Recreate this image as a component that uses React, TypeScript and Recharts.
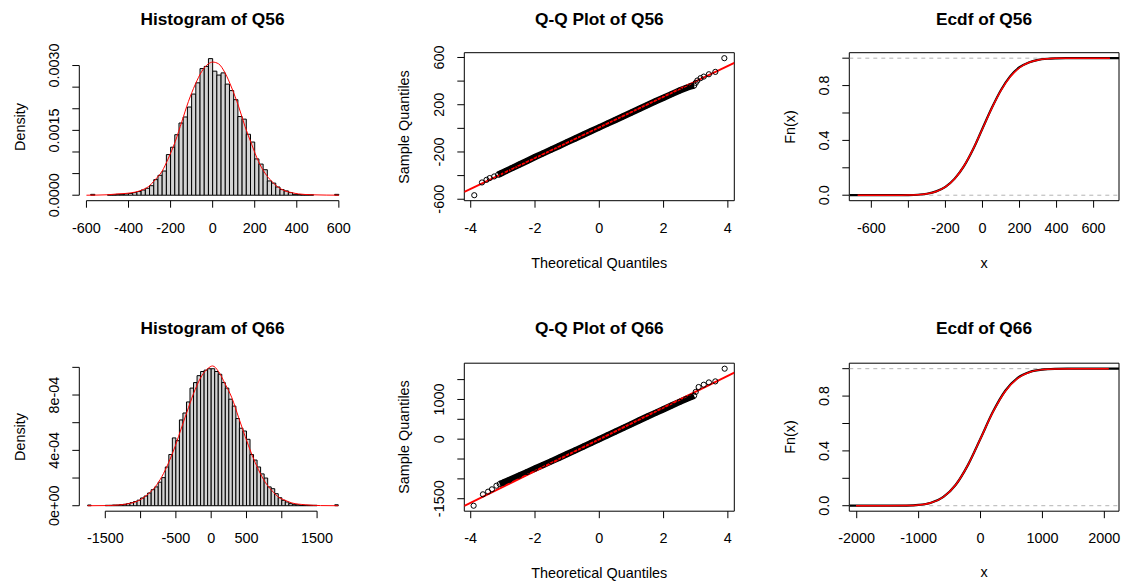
import React from 'react';
import { ComposedChart, XAxis, YAxis, Line, Scatter, ReferenceArea, ReferenceLine } from 'recharts';

const FONT = '"Liberation Sans", Arial, Helvetica, sans-serif';
const FS = 14.4;
const PW = 375;
const PH = 292.5;

// ---------------- Q56 histogram ----------------
const hist56Start = -600;
const hist56Width = 20;
const hist56Density = [
  0, 0.00002, 0, 0, 0, 0.00001, 0.00001, 0.00002, 0.00002, 0.00003,
  0.00004, 0.00006, 0.000085, 0.00012, 0.00016, 0.00022, 0.00036, 0.00046, 0.00056, 0.00094,
  0.00111, 0.0014, 0.00167, 0.00181, 0.00204, 0.00234, 0.0026, 0.00293, 0.00298, 0.00316,
  0.00287, 0.00278, 0.00283, 0.00257, 0.00242, 0.00221, 0.00182, 0.00176, 0.00141, 0.00123,
  0.00084, 0.00072, 0.00059, 0.00033, 0.00028, 0.00019, 0.00013, 0.0001, 0.00006, 0.00002,
  0.000015, 0.00001, 0.00001, 0.00001, 0, 0, 0, 0, 0, 0.00002,
];
const dens56X = [-600, -550, -500, -450, -416, -370, -336, -305, -273, -241, -210, -178, -146, -115, -83, -51, -20, 0, 28, 59, 91, 123, 154, 186, 218, 249, 281, 313, 344, 376, 408, 471, 540, 600];
const dens56Y = [0, 0.000003, 0.00001, 0.00003, 0.00004, 0.00007, 0.00012, 0.0002, 0.00036, 0.00055, 0.00086, 0.00124, 0.00171, 0.00217, 0.00256, 0.00287, 0.00304, 0.00308, 0.00304, 0.00283, 0.00248, 0.00206, 0.00159, 0.00117, 0.00078, 0.00051, 0.00032, 0.00018, 0.0001, 0.00006, 0.00003, 0.00001, 0.000003, 0];
const hist56XTicks = [-600, -400, -200, 0, 200, 400, 600];
const hist56XLabels = ['-600', '-400', '-200', '0', '200', '400', '600'];
const hist56YTicks = [0, 0.0005, 0.001, 0.0015, 0.002, 0.0025, 0.003];
const hist56YLabels = ['0.0000', '', '', '0.0015', '', '', '0.0030'];

// ---------------- Q66 histogram ----------------
const hist66Start = -1750;
const hist66Width = 50;
const hist66Density = [
  0.000005, 0, 0, 0, 0, 0.000003, 0.000003, 0.000005, 0.000005, 0.000008,
  0.00001, 0.000015, 0.000022, 0.00003, 0.00004, 0.000056, 0.00007, 0.000092, 0.000116, 0.000136,
  0.00017, 0.000203, 0.00028, 0.00037, 0.00049, 0.00047, 0.00062, 0.00067, 0.00075, 0.00085,
  0.00089, 0.00094, 0.00097, 0.00098, 0.00099, 0.00099, 0.00097, 0.00095, 0.00089, 0.00085,
  0.00077, 0.00072, 0.00063, 0.00056, 0.00054, 0.00048, 0.00037, 0.00033, 0.00028, 0.00023,
  0.0002, 0.000136, 0.000123, 0.000087, 0.000058, 0.000039, 0.000027, 0.000015, 0.00001, 0.000007,
  0.000003, 0.000003, 0.000003, 0.000003, 0.000003, 0, 0, 0, 0, 0,
  0.000007,
];
const dens66X = [-1750, -1500, -1313, -1171, -1076, -982, -888, -793, -699, -604, -510, -416, -321, -227, -132, -50, 20, 104, 198, 293, 387, 482, 576, 670, 765, 859, 954, 1048, 1143, 1331, 1550, 1800];
const dens66Y = [0, 0.000001, 0.000005, 0.000015, 0.000027, 0.00005, 0.000087, 0.000136, 0.00021, 0.00031, 0.00043, 0.00057, 0.00071, 0.00084, 0.00094, 0.00099, 0.00101, 0.00097, 0.00088, 0.00078, 0.00064, 0.0005, 0.00037, 0.00026, 0.00017, 0.00011, 0.000062, 0.000039, 0.00002, 0.000007, 0.000001, 0];
const hist66XTicks = [-1500, -1000, -500, 0, 500, 1000, 1500];
const hist66XLabels = ['-1500', '', '-500', '0', '500', '', '1500'];
const hist66YTicks = [0, 0.0002, 0.0004, 0.0006, 0.0008, 0.001];
const hist66YLabels = ['0e+00', '', '4e-04', '', '8e-04', ''];

// ---------------- Q-Q plots ----------------
const qq56Theo = [-3.89, -3.65, -3.51, -3.41, -3.27, -3.15, -3.05, -2.9, -2.7, -2.5, -2.25, -2.0, -1.75, -1.5, -1.25, -1.0, -0.75, -0.5, -0.25, 0, 0.25, 0.5, 0.75, 1.0, 1.25, 1.5, 1.75, 2.0, 2.25, 2.5, 2.7, 2.85, 2.95, 3.0, 3.05, 3.15, 3.25, 3.41, 3.61, 3.89];
const qq56Sample = [-566, -458, -436, -421, -407, -393, -380, -360, -334, -308, -276, -243, -212, -180, -149, -117, -86, -54, -23, 8, 40, 71, 103, 134, 166, 197, 229, 259, 290, 320, 342, 357, 362, 385, 405, 425, 438, 458, 478, 594];
const qq56LineX = [-4.2, 4.2];
const qq56LineY = [-538, 555];
const qq56XTicks = [-4, -2, 0, 2, 4];
const qq56XLabels = ['-4', '-2', '0', '2', '4'];
const qq56YTicks = [-600, -400, -200, 0, 200, 400, 600];
const qq56YLabels = ['-600', '', '-200', '', '200', '', '600'];

const qq66Theo = [-3.91, -3.62, -3.46, -3.34, -3.2, -3.1, -3.0, -2.8, -2.5, -2.25, -2.0, -1.75, -1.5, -1.25, -1.0, -0.75, -0.5, -0.25, 0, 0.25, 0.5, 0.75, 1.0, 1.25, 1.5, 1.75, 2.0, 2.25, 2.5, 2.7, 2.85, 2.95, 3.0, 3.09, 3.25, 3.41, 3.61, 3.9];
const qq66Sample = [-1676, -1389, -1322, -1263, -1172, -1130, -1100, -1030, -920, -830, -740, -650, -560, -468, -375, -282, -188, -94, 0, 95, 190, 285, 380, 475, 570, 662, 755, 848, 940, 1010, 1060, 1095, 1190, 1313, 1371, 1429, 1455, 1775];
const qq66LineX = [-4.2, 4.2];
const qq66LineY = [-1681, 1678];
const qq66XTicks = [-4, -2, 0, 2, 4];
const qq66XLabels = ['-4', '-2', '0', '2', '4'];
const qq66YTicks = [-1500, -1000, -500, 0, 500, 1000, 1500];
const qq66YLabels = ['-1500', '', '', '0', '', '1000', ''];

// ---------------- ECDFs ----------------
const ecdf56X = [-719, -580, -450, -400, -350, -300, -250, -200, -150, -100, -50, 0, 50, 100, 150, 200, 250, 300, 350, 400, 450, 600, 737];
const ecdf56Y = [0, 0.0001, 0.0004, 0.001, 0.0035, 0.011, 0.028, 0.061, 0.121, 0.212, 0.337, 0.487, 0.636, 0.768, 0.869, 0.934, 0.969, 0.988, 0.996, 0.9988, 0.9998, 1, 1];
const norm56X = [-674, -500, -400, -350, -300, -250, -200, -150, -100, -50, 0, 50, 100, 150, 200, 250, 300, 350, 400, 500, 688];
const norm56Y = [0, 0.0001, 0.0011, 0.0036, 0.0104, 0.0268, 0.0602, 0.12, 0.2133, 0.3384, 0.4849, 0.6334, 0.7643, 0.8639, 0.9302, 0.9683, 0.9873, 0.9955, 0.9986, 0.9999, 1];
const ecdf56XTicks = [-600, -400, -200, 0, 200, 400, 600];
const ecdf56XLabels = ['-600', '', '-200', '0', '200', '400', '600'];

const ecdf66X = [-2120, -1700, -1400, -1200, -1000, -800, -600, -400, -200, 0, 200, 400, 600, 800, 1000, 1200, 1400, 1800, 2237];
const ecdf66Y = [0, 0.00005, 0.0004, 0.0013, 0.006, 0.022, 0.064, 0.153, 0.3, 0.49, 0.685, 0.839, 0.933, 0.977, 0.9935, 0.9985, 0.9997, 1, 1];
const norm66X = [-2012, -1500, -1200, -1000, -800, -600, -400, -200, 0, 200, 400, 600, 800, 1000, 1200, 1500, 2072];
const norm66Y = [0, 0.00008, 0.00124, 0.00579, 0.0214, 0.0636, 0.1527, 0.2998, 0.49, 0.6826, 0.8352, 0.9299, 0.9759, 0.9933, 0.9985, 0.9999, 1];
const ecdf66XTicks = [-2000, -1000, 0, 1000, 2000];
const ecdf66XLabels = ['-2000', '-1000', '0', '1000', '2000'];

const ecdfYTicks = [0, 0.2, 0.4, 0.6, 0.8, 1.0];
const ecdfYLabels = ['0.0', '', '0.4', '', '0.8', ''];

// ---------------- helpers ----------------
const zip = (xs: number[], ys: number[]) => xs.map((x, i) => ({ x, y: ys[i] }));

const labelFor = (ticks: number[], labels: string[], v: number) => {
  const i = ticks.findIndex((t) => Math.abs(t - v) < 1e-9);
  return i >= 0 ? labels[i] : '';
};

const makeXTick = (ticks: number[], labels: string[]) => (props: any) => {
  const { x, y, payload } = props;
  const s = labelFor(ticks, labels, payload.value);
  if (!s) return <g />;
  return (
    <text x={x} y={y} dy="0.71em" textAnchor="middle" fontSize={FS} fontFamily={FONT} fill="#000">
      {s}
    </text>
  );
};

const makeYTick = (ticks: number[], labels: string[]) => (props: any) => {
  const { x, y, payload } = props;
  const s = labelFor(ticks, labels, payload.value);
  if (!s) return <g />;
  return (
    <text x={x} y={y} transform={`rotate(-90 ${x} ${y})`} textAnchor="middle" fontSize={FS} fontFamily={FONT} fill="#000">
      {s}
    </text>
  );
};

const circleShape = (p: any) => (
  <circle cx={p.cx} cy={p.cy} r={2.6} fill="none" stroke="#000" strokeWidth={1} />
);

type Box = { l: number; t: number; r: number; b: number };

function chartFrame(
  key: string,
  col: number,
  row: number,
  box: Box,
  xDomain: [number, number],
  yDomain: [number, number],
  xTicks: number[],
  xLabels: string[],
  yTicks: number[],
  yLabels: string[],
  children: React.ReactNode[],
) {
  const x0 = col * PW;
  const y0 = row * PH;
  const AW = 30;
  const AH = 30;
  const margin = {
    left: box.l - x0 - AW,
    right: x0 + PW - box.r,
    top: box.t - y0,
    bottom: y0 + PH - box.b - AH,
  };
  return (
    <div key={key} style={{ position: 'absolute', left: x0, top: y0, width: PW, height: PH }}>
      <ComposedChart width={PW} height={PH} margin={margin}>
        <XAxis
          type="number"
          dataKey="x"
          domain={xDomain}
          allowDataOverflow
          ticks={xTicks}
          interval={0}
          height={AH}
          tickSize={7}
          tickMargin={15}
          axisLine={false}
          tickLine={{ stroke: '#000', strokeWidth: 1 }}
          tick={makeXTick(xTicks, xLabels)}
        />
        <YAxis
          type="number"
          domain={yDomain}
          allowDataOverflow
          ticks={yTicks}
          interval={0}
          width={AW}
          tickSize={7}
          tickMargin={13}
          axisLine={false}
          tickLine={{ stroke: '#000', strokeWidth: 1 }}
          tick={makeYTick(yTicks, yLabels)}
        />
        {children}
      </ComposedChart>
    </div>
  );
}

function histChildren(start: number, width: number, dens: number[], dx: number[], dy: number[], xd: [number, number], yd: [number, number], xTicks: number[], yTicks: number[]) {
  const out: React.ReactNode[] = [];
  dens.forEach((d, i) => {
    if (d > 0) {
      out.push(
        <ReferenceArea
          key={'bar' + i}
          x1={start + i * width}
          x2={start + (i + 1) * width}
          y1={0}
          y2={d}
          fill="#d3d3d3"
          fillOpacity={1}
          stroke="#000"
          strokeWidth={1}
          strokeOpacity={1}
          ifOverflow="visible"
        />,
      );
    }
  });
  out.push(
    <ReferenceLine
      key="xaxis"
      segment={[{ x: xTicks[0], y: yd[0] }, { x: xTicks[xTicks.length - 1], y: yd[0] }]}
      stroke="#000"
      strokeWidth={1}
      ifOverflow="visible"
    />,
  );
  out.push(
    <ReferenceLine
      key="yaxis"
      segment={[{ x: xd[0], y: yTicks[0] }, { x: xd[0], y: yTicks[yTicks.length - 1] }]}
      stroke="#000"
      strokeWidth={1}
      ifOverflow="visible"
    />,
  );
  out.push(
    <Line
      key="dens"
      data={zip(dx, dy)}
      dataKey="y"
      type="monotone"
      stroke="#ff0000"
      strokeWidth={1}
      dot={false}
      activeDot={false}
      isAnimationActive={false}
    />,
  );
  return out;
}

function boxArea(xd: [number, number], yd: [number, number]) {
  return (
    <ReferenceArea
      key="box"
      x1={xd[0]}
      x2={xd[1]}
      y1={yd[0]}
      y2={yd[1]}
      fill="none"
      stroke="#000"
      strokeWidth={1}
      strokeOpacity={1}
      ifOverflow="visible"
    />
  );
}

function qqChildren(theo: number[], sample: number[], bandFrom: number, bandTo: number, lx: number[], ly: number[], xd: [number, number], yd: [number, number]) {
  const pts = zip(theo, sample);
  const band = pts.filter((p) => p.x >= bandFrom && p.x <= bandTo);
  return [
    boxArea(xd, yd),
    <Line key="band" data={band} dataKey="y" type="linear" stroke="#000" strokeWidth={6.5} dot={false} activeDot={false} isAnimationActive={false} />,
    <Scatter key="pts" data={pts} dataKey="y" shape={circleShape} isAnimationActive={false} />,
    <Line key="qqline" data={zip(lx, ly)} dataKey="y" type="linear" stroke="#ff0000" strokeWidth={2} dot={false} activeDot={false} isAnimationActive={false} />,
  ];
}

function ecdfChildren(ex: number[], ey: number[], nx: number[], ny: number[], xd: [number, number], yd: [number, number]) {
  return [
    <ReferenceLine key="h0" y={0} stroke="#b3b3b3" strokeWidth={1} strokeDasharray="4 4" ifOverflow="visible" />,
    <ReferenceLine key="h1" y={1} stroke="#b3b3b3" strokeWidth={1} strokeDasharray="4 4" ifOverflow="visible" />,
    <Line key="ecdf" data={zip(ex, ey)} dataKey="y" type="monotone" stroke="#000" strokeWidth={2.2} dot={false} activeDot={false} isAnimationActive={false} />,
    <Line key="norm" data={zip(nx, ny)} dataKey="y" type="monotone" stroke="#ff0000" strokeWidth={1.5} dot={false} activeDot={false} isAnimationActive={false} />,
    boxArea(xd, yd),
  ];
}

function Txt({ x, y, text, size = FS, bold = false, rotate = false }: { x: number; y: number; text: string; size?: number; bold?: boolean; rotate?: boolean }) {
  return (
    <div
      style={{
        position: 'absolute',
        left: x,
        top: y,
        transform: `translate(-50%, -50%)${rotate ? ' rotate(-90deg)' : ''}`,
        fontFamily: FONT,
        fontSize: size,
        fontWeight: bold ? 700 : 400,
        lineHeight: 1,
        whiteSpace: 'nowrap',
        color: '#000',
      }}
    >
      {text}
    </div>
  );
}

// layout (pixels)
const hist56Box = { l: 79.3, t: 52.7, r: 346, b: 200.7 };
const qq56Box = { l: 464.3, t: 52.7, r: 734.3, b: 200.7 };
const ecdf56Box = { l: 849.3, t: 52.7, r: 1119, b: 200.7 };
const hist66Box = { l: 79.3, t: 362.7, r: 346.6, b: 510.7 };
const qq66Box = { l: 464.3, t: 362.7, r: 734.3, b: 510.7 };
const ecdf66Box = { l: 849.3, t: 362.7, r: 1119, b: 510.7 };

const hist56XD: [number, number] = [-634, 634];
const hist56YD: [number, number] = [-0.000127, 0.003297];
const hist66XD: [number, number] = [-1868, 1918];
const hist66YD: [number, number] = [-0.0000396, 0.00103];
const qqXD: [number, number] = [-4.2, 4.2];
const qq56YD: [number, number] = [-612.4, 640.4];
const qq66YD: [number, number] = [-1814, 1913];
const ecdf56XD: [number, number] = [-719, 737];
const ecdf66XD: [number, number] = [-2120, 2237];
const ecdfYD: [number, number] = [-0.04, 1.04];

export default function App() {
  return (
    <div style={{ position: 'absolute', left: 0, top: 0, width: 1125, height: 585, background: '#fff', overflow: 'hidden' }}>
      {chartFrame('h56', 0, 0, hist56Box, hist56XD, hist56YD, hist56XTicks, hist56XLabels, hist56YTicks, hist56YLabels,
        histChildren(hist56Start, hist56Width, hist56Density, dens56X, dens56Y, hist56XD, hist56YD, hist56XTicks, hist56YTicks))}
      {chartFrame('q56', 1, 0, qq56Box, qqXD, qq56YD, qq56XTicks, qq56XLabels, qq56YTicks, qq56YLabels,
        qqChildren(qq56Theo, qq56Sample, -3.16, 2.96, qq56LineX, qq56LineY, qqXD, qq56YD))}
      {chartFrame('e56', 2, 0, ecdf56Box, ecdf56XD, ecdfYD, ecdf56XTicks, ecdf56XLabels, ecdfYTicks, ecdfYLabels,
        ecdfChildren(ecdf56X, ecdf56Y, norm56X, norm56Y, ecdf56XD, ecdfYD))}
      {chartFrame('h66', 0, 1, hist66Box, hist66XD, hist66YD, hist66XTicks, hist66XLabels, hist66YTicks, hist66YLabels,
        histChildren(hist66Start, hist66Width, hist66Density, dens66X, dens66Y, hist66XD, hist66YD, hist66XTicks, hist66YTicks))}
      {chartFrame('q66', 1, 1, qq66Box, qqXD, qq66YD, qq66XTicks, qq66XLabels, qq66YTicks, qq66YLabels,
        qqChildren(qq66Theo, qq66Sample, -3.11, 2.96, qq66LineX, qq66LineY, qqXD, qq66YD))}
      {chartFrame('e66', 2, 1, ecdf66Box, ecdf66XD, ecdfYD, ecdf66XTicks, ecdf66XLabels, ecdfYTicks, ecdfYLabels,
        ecdfChildren(ecdf66X, ecdf66Y, norm66X, norm66Y, ecdf66XD, ecdfYD))}

      <Txt x={212.5} y={19.5} text="Histogram of Q56" size={17.3} bold />
      <Txt x={599.3} y={19.5} text="Q-Q Plot of Q56" size={17.3} bold />
      <Txt x={984} y={19.5} text="Ecdf of Q56" size={17.3} bold />
      <Txt x={212.5} y={329} text="Histogram of Q66" size={17.3} bold />
      <Txt x={599.3} y={329} text="Q-Q Plot of Q66" size={17.3} bold />
      <Txt x={984} y={329} text="Ecdf of Q66" size={17.3} bold />

      <Txt x={20} y={126.8} text="Density" rotate />
      <Txt x={404.3} y={126.8} text="Sample Quantiles" rotate />
      <Txt x={790} y={126.8} text="Fn(x)" rotate />
      <Txt x={20} y={436.8} text="Density" rotate />
      <Txt x={404.3} y={436.8} text="Sample Quantiles" rotate />
      <Txt x={790} y={436.8} text="Fn(x)" rotate />

      <Txt x={599.3} y={263.3} text="Theoretical Quantiles" />
      <Txt x={984} y={262.8} text="x" />
      <Txt x={599.3} y={572.7} text="Theoretical Quantiles" />
      <Txt x={984} y={572.3} text="x" />
    </div>
  );
}
